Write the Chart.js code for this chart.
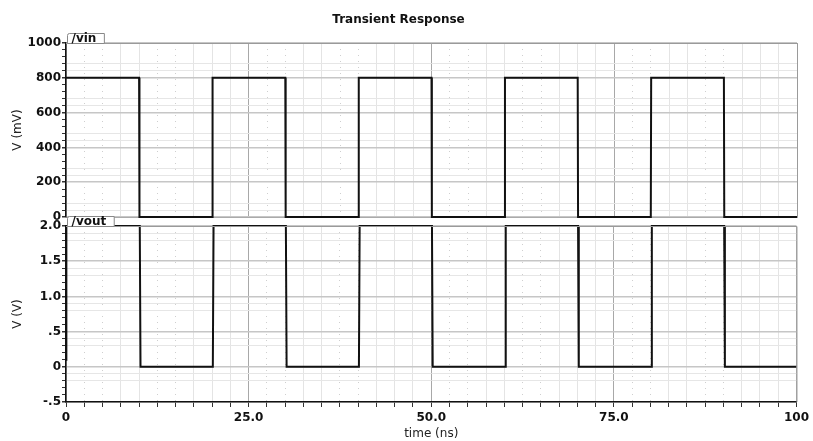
<!DOCTYPE html>
<html>
<head>
<meta charset="utf-8">
<script src="https://cdn.jsdelivr.net/npm/chart.js@4.4.1/dist/chart.umd.min.js"></script>
<style>
  body { margin: 0; background: #fff; }
  #wrap { position: relative; width: 813px; height: 441px; }
  .box { position: absolute; left: 0; width: 813px; }
</style>
</head>
<body>
<div id="wrap">
  <div class="box" style="top:0;height:230px"><canvas id="vinChart"></canvas></div>
  <div class="box" style="top:214px;height:227px"><canvas id="voutChart"></canvas></div>
</div>
<script>
// time in ns, levels
const vinTimes  = [0, 10, 10.05, 20, 20.05, 30, 30.05, 40, 40.05, 50, 50.05, 60, 60.05, 70, 70.05, 80, 80.05, 90, 90.05, 100];
const vinLevels = [800, 800, 0, 0, 800, 800, 0, 0, 800, 800, 0, 0, 800, 800, 0, 0, 800, 800, 0, 0];   // mV

const voutTimes  = [0, 0.05, 10.1, 10.2, 20.1, 20.2, 30.1, 30.2, 40.1, 40.2, 50.1, 50.2, 60.1, 60.2, 70.1, 70.2, 80.1, 80.2, 90.1, 90.2, 100];
const voutLevels = [0.1, 2.0, 2.0, 0, 0, 2.0, 2.0, 0, 0, 2.0, 2.0, 0, 0, 2.0, 2.0, 0, 0, 2.0, 2.0, 0, 0];   // V

const timeTickValues = [0, 25, 50, 75, 100];
const timeTickLabels = ['0', '25.0', '50.0', '75.0', '100'];
const vinTickValues  = [0, 200, 400, 600, 800, 1000];
const voutTickValues = [-0.5, 0, 0.5, 1, 1.5, 2];
const voutTickLabels = ['-.5', '0', '.5', '1.0', '1.5', '2.0'];

Chart.defaults.font.family = 'DejaVu Sans';
Chart.defaults.font.size = 12;
Chart.defaults.color = '#222';

const tickFont = { size: 12, weight: 'bold' };
const axisTitleFont = { size: 12 };

function toPoints(xs, ys) {
  return xs.map((x, i) => ({ x: x, y: ys[i] }));
}

function near(a, b) { return Math.abs(a - b) < 1e-6; }

// vertical grid: major every 25, minor every 2.5, a few of them dotted
function isDotted(v) {
  const off = ((v % 25) + 25) % 25;
  return [2.5, 5, 12.5, 15].some(o => near(o, off));
}
function xGridColor(c) {
  if (!c.tick) return '#999';
  const v = c.tick.value;
  if (timeTickValues.some(t => near(t, v))) return '#a8a8a8';
  return isDotted(v) ? '#cfcfcf' : '#e4e4e4';
}
function xGridDash(c) {
  if (!c.tick) return [];
  return isDotted(c.tick.value) ? [1, 5] : [];
}

// tab label + frame on top/right
const framePlugin = {
  id: 'frame',
  afterDraw(chart, args, opts) {
    const { ctx, chartArea: a } = chart;
    ctx.save();
    ctx.strokeStyle = '#9a9a9a';
    ctx.lineWidth = 1;
    ctx.beginPath();
    ctx.moveTo(a.left, a.top + 0.5);
    ctx.lineTo(a.right + 0.5, a.top + 0.5);
    ctx.lineTo(a.right + 0.5, a.bottom);
    ctx.stroke();
    // tab
    ctx.font = 'bold 12px "DejaVu Sans"';
    const w = ctx.measureText(opts.text).width + 12;
    const x0 = a.left + 1.5, y0 = a.top - 9.5;
    ctx.fillStyle = '#fff';
    ctx.beginPath();
    ctx.moveTo(x0, a.top + 0.5);
    ctx.lineTo(x0, y0 + 2);
    ctx.quadraticCurveTo(x0, y0, x0 + 2, y0);
    ctx.lineTo(x0 + w, y0);
    ctx.lineTo(x0 + w, a.top + 0.5);
    ctx.closePath();
    ctx.fill();
    ctx.strokeStyle = '#888';
    ctx.stroke();
    ctx.fillStyle = '#111';
    ctx.textBaseline = 'middle';
    ctx.fillText(opts.text, x0 + 4, y0 + 5.5);
    ctx.restore();
  }
};

const lineStyle = {
  borderColor: '#111',
  borderWidth: 2,
  pointRadius: 0,
  tension: 0,
  fill: false,
  clip: 3
};

new Chart(document.getElementById('vinChart'), {
  type: 'line',
  data: {
    datasets: [Object.assign({ label: '/vin', data: toPoints(vinTimes, vinLevels) }, lineStyle)]
  },
  plugins: [framePlugin],
  options: {
    responsive: true,
    maintainAspectRatio: false,
    animation: false,
    layout: { padding: { left: 0, right: 16, top: 0, bottom: 0 } },
    plugins: {
      legend: { display: false },
      tooltip: { enabled: false },
      title: {
        display: true,
        text: 'Transient Response',
        font: { size: 12, weight: 'bold' },
        color: '#111',
        padding: { top: 13, bottom: 15.6 }
      },
      frame: { text: '/vin' }
    },
    scales: {
      x: {
        type: 'linear',
        min: 0, max: 100,
        ticks: { display: false, stepSize: 2.5, autoSkip: false },
        grid: { color: xGridColor, drawTicks: false },
        border: { color: '#aaa', dash: xGridDash },
        afterFit(s) { s.height = 13; }
      },
      y: {
        min: 0, max: 1000,
        ticks: {
          stepSize: 40,
          autoSkip: false,
          padding: 1,
          color: '#111',
          font: tickFont,
          callback: v => vinTickValues.includes(v) ? String(v) : ''
        },
        grid: {
          tickLength: 4,
          tickColor: '#333',
          lineWidth: c => (c.tick && vinTickValues.includes(c.tick.value)) ? 1.5 : 1,
          color: c => {
            if (!c.tick) return '#999';
            const v = c.tick.value;
            if (vinTickValues.includes(v)) return '#c6c6c6';
            const off = v % 200;
            return (off === 40 || off === 80) ? '#e6e6e6' : 'rgba(0,0,0,0)';
          }
        },
        border: { color: '#111', width: 1.5 },
        title: { display: true, text: 'V (mV)', color: '#222', font: axisTitleFont, padding: { top: 11, bottom: 0 } },
        afterFit(s) { s.width = 66; }
      }
    }
  }
});

new Chart(document.getElementById('voutChart'), {
  type: 'line',
  data: {
    datasets: [Object.assign({ label: '/vout', data: toPoints(voutTimes, voutLevels) }, lineStyle)]
  },
  plugins: [framePlugin],
  options: {
    responsive: true,
    maintainAspectRatio: false,
    animation: false,
    layout: { padding: { left: 0, right: 16, top: 12, bottom: 0 } },
    plugins: {
      legend: { display: false },
      tooltip: { enabled: false },
      frame: { text: '/vout' }
    },
    scales: {
      x: {
        type: 'linear',
        min: 0, max: 100,
        ticks: {
          stepSize: 2.5,
          autoSkip: false,
          maxRotation: 0,
          padding: 4,
          color: '#111',
          font: tickFont,
          callback: v => {
            const i = timeTickValues.findIndex(t => near(t, v));
            return i >= 0 ? timeTickLabels[i] : '';
          }
        },
        grid: {
          color: xGridColor,
          tickLength: 5,
          tickColor: '#333'
        },
        border: { color: '#111', width: 1.5, dash: xGridDash },
        title: { display: true, text: 'time (ns)', color: '#222', font: axisTitleFont, padding: { top: 1, bottom: 0 } },
        afterFit(s) { s.height = 39; }
      },
      y: {
        min: -0.5, max: 2.0,
        ticks: {
          stepSize: 0.1,
          autoSkip: false,
          padding: 1,
          color: '#111',
          font: tickFont,
          callback: v => {
            const i = voutTickValues.findIndex(t => near(t, v));
            return i >= 0 ? voutTickLabels[i] : '';
          }
        },
        grid: {
          tickLength: 4,
          tickColor: '#333',
          lineWidth: c => (c.tick && voutTickValues.some(t => near(t, c.tick.value))) ? 1.5 : 1,
          color: c => {
            if (!c.tick) return '#999';
            const v = c.tick.value;
            if (voutTickValues.some(t => near(t, v))) return '#c6c6c6';
            const off = Math.round(((v + 0.5) % 0.5) * 10);
            return (off === 3 || off === 4) ? '#e6e6e6' : 'rgba(0,0,0,0)';
          }
        },
        border: { color: '#111', width: 1.5 },
        title: { display: true, text: 'V (V)', color: '#222', font: axisTitleFont, padding: { top: 11, bottom: 0 } },
        afterFit(s) { s.width = 66; }
      }
    }
  }
});
</script>
</body>
</html>
